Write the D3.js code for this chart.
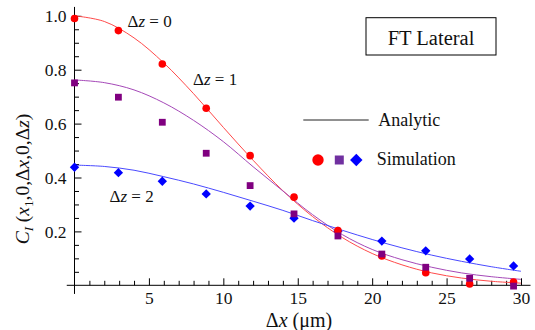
<!DOCTYPE html>
<html><head><meta charset="utf-8">
<script src="https://cdn.jsdelivr.net/npm/d3@7"></script>
<style>
body{margin:0;background:#fff;}
svg text{font-family:"Liberation Serif","Times New Roman",serif;fill:#111;}
</style></head>
<body><svg id="c" width="535" height="330"></svg>
<script>
// ---- data ----
const simX = [0, 2.95, 5.9, 8.85, 11.8, 14.75, 17.7, 20.65, 23.6, 26.55, 29.5];
const simDz0 = [0.99, 0.945, 0.821, 0.657, 0.481, 0.327, 0.203, 0.109, 0.047, 0.005, 0.012];
const simDz1 = [0.751, 0.698, 0.605, 0.49, 0.37, 0.265, 0.183, 0.116, 0.067, 0.026, -0.003];
const simDz2 = [0.438, 0.418, 0.386, 0.339, 0.294, 0.249, 0.201, 0.164, 0.128, 0.098, 0.072];
const curveX = [0, 2, 4, 6, 8, 10, 12, 14, 16, 18, 20, 22, 24, 26, 28, 30];
const anaDz0 = [1.0, 0.979, 0.918, 0.825, 0.711, 0.586, 0.464, 0.351, 0.255, 0.177, 0.118, 0.076, 0.046, 0.027, 0.015, 0.008];
const anaDz1 = [0.762, 0.752, 0.725, 0.677, 0.612, 0.533, 0.44, 0.35, 0.262, 0.188, 0.133, 0.095, 0.067, 0.046, 0.032, 0.022];
const anaDz2 = [0.446, 0.441, 0.427, 0.403, 0.376, 0.345, 0.312, 0.278, 0.24, 0.204, 0.17, 0.139, 0.112, 0.089, 0.069, 0.052];
const xMajor = [5, 10, 15, 20, 25, 30];
const yMajor = [0.2, 0.4, 0.6, 0.8, 1.0];
const labels = ["Δz = 0", "Δz = 1", "Δz = 2"];

const svg = d3.select("#c");
const x = d3.scaleLinear().domain([0, 30]).range([74.5, 521]);
const y = d3.scaleLinear().domain([0, 1]).range([285.3, 15.8]);

// axes lines (extended past origin like Mathematica)
svg.append("line").attr("x1", x(-0.52)).attr("x2", x(30.64)).attr("y1", y(0)).attr("y2", y(0)).attr("stroke", "#000").attr("stroke-width", 1);
svg.append("line").attr("x1", x(0)).attr("x2", x(0)).attr("y1", y(-0.032)).attr("y2", y(1.033)).attr("stroke", "#000").attr("stroke-width", 1);

const xMinor = d3.range(1, 31).filter(v => v % 5 !== 0);
const yMinor = d3.range(1, 21).map(v => v * 0.05).filter(v => Math.abs(v / 0.2 - Math.round(v / 0.2)) > 1e-6);

const gx = svg.append("g").attr("transform", `translate(0,${y(0)})`)
  .call(d3.axisBottom(x).tickValues(xMajor).tickSize(-7).tickPadding(6).tickFormat(d3.format("d")));
const gxm = svg.append("g").attr("transform", `translate(0,${y(0)})`)
  .call(d3.axisBottom(x).tickValues(xMinor).tickSize(-4.5).tickFormat(""));
const gy = svg.append("g").attr("transform", `translate(${x(0)},0)`)
  .call(d3.axisLeft(y).tickValues(yMajor).tickSize(-7).tickPadding(8).tickFormat(d3.format(".1f")));
const gym = svg.append("g").attr("transform", `translate(${x(0)},0)`)
  .call(d3.axisLeft(y).tickValues(yMinor).tickSize(-4.5).tickFormat(""));
[gx, gxm, gy, gym].forEach(g => {
  g.select(".domain").remove();
  g.selectAll("line").attr("stroke", "#000").attr("stroke-width", 1);
  g.selectAll("text").attr("font-size", 17.5).attr("font-family", "Liberation Serif").attr("fill", "#111");
});

// analytic curves
const lineGen = d3.line().x((d, i) => x(curveX[i])).y(d => y(d)).curve(d3.curveCatmullRom);
const curveColors = ["#ff4a4a", "#a548b8", "#4a4aff"];
[anaDz0, anaDz1, anaDz2].forEach((s, k) => {
  svg.append("path").attr("d", lineGen(s)).attr("fill", "none").attr("stroke", curveColors[k]).attr("stroke-width", 1);
});

// simulation markers
const circ = d3.symbol().type(d3.symbolCircle).size(Math.PI * 3.8 * 3.8);
const sq = d3.symbol().type(d3.symbolSquare).size(6.8 * 6.8);
svg.append("g").selectAll("path").data(simDz2).join("path")
  .attr("transform", (d, i) => `translate(${x(simX[i])},${y(d)}) rotate(45)`)
  .attr("d", d3.symbol().type(d3.symbolSquare).size(6.6 * 6.6)()).attr("fill", "#0000ff");
svg.append("g").selectAll("path").data(simDz0).join("path")
  .attr("transform", (d, i) => `translate(${x(simX[i])},${y(d)})`)
  .attr("d", circ()).attr("fill", "#ff0000");
svg.append("g").selectAll("path").data(simDz1).join("path")
  .attr("transform", (d, i) => `translate(${x(simX[i])},${y(d)})`)
  .attr("d", sq()).attr("fill", "#800080");

// annotations
function dz(t, xx, yy) {
  const parts = t.split("z");
  const tx = svg.append("text").attr("x", xx).attr("y", yy).attr("font-size", 17);
  tx.append("tspan").text(parts[0]);
  tx.append("tspan").attr("font-style", "italic").text("z");
  tx.append("tspan").text(parts[1]);
}
dz(labels[0], 127.5, 26.5);
dz(labels[1], 193, 85);
dz(labels[2], 109.5, 201.5);

// FT Lateral box
svg.append("rect").attr("x", 366).attr("y", 17.7).attr("width", 130).attr("height", 37.3)
  .attr("fill", "#fff").attr("stroke", "#000").attr("stroke-width", 1);
svg.append("text").attr("x", 431).attr("y", 45).attr("text-anchor", "middle").attr("font-size", 20.5).text("FT Lateral");

// legend
svg.append("line").attr("x1", 303.3).attr("x2", 368.7).attr("y1", 120).attr("y2", 120).attr("stroke", "#222").attr("stroke-width", 1);
svg.append("text").attr("x", 378.3).attr("y", 125.5).attr("font-size", 18).text("Analytic");
svg.append("path").attr("transform", "translate(318,160)").attr("d", d3.symbol().type(d3.symbolCircle).size(Math.PI * 5.7 * 5.7)()).attr("fill", "#ff0000");
svg.append("path").attr("transform", "translate(339.3,160)").attr("d", d3.symbol().type(d3.symbolSquare).size(9 * 9)()).attr("fill", "#7030a0");
svg.append("path").attr("transform", "translate(356.3,160) rotate(45)").attr("d", d3.symbol().type(d3.symbolSquare).size(8.8 * 8.8)()).attr("fill", "#0000ff");
svg.append("text").attr("x", 376.7).attr("y", 165).attr("font-size", 18).text("Simulation");

// axis titles
const xt = svg.append("text").attr("x", 299).attr("y", 327).attr("text-anchor", "middle").attr("font-size", 20);
xt.append("tspan").text("Δ");
xt.append("tspan").attr("font-style", "italic").text("x");
xt.append("tspan").text(" (μm)");

const yt = svg.append("text").attr("transform", "translate(29,179) rotate(-90)").attr("text-anchor", "middle").attr("font-size", 19.5);
yt.append("tspan").attr("font-style", "italic").text("C");
yt.append("tspan").attr("font-style", "italic").attr("font-size", 13).attr("dy", 4).text("I");
yt.append("tspan").attr("dy", -4).text(" (");
yt.append("tspan").attr("font-style", "italic").text("x");
yt.append("tspan").attr("font-size", 13).attr("dy", 4).text("1");
yt.append("tspan").attr("dy", -4).text(",0,Δ");
yt.append("tspan").attr("font-style", "italic").text("x");
yt.append("tspan").text(",0,Δ");
yt.append("tspan").attr("font-style", "italic").text("z");
yt.append("tspan").text(")");
</script>
</body></html>
